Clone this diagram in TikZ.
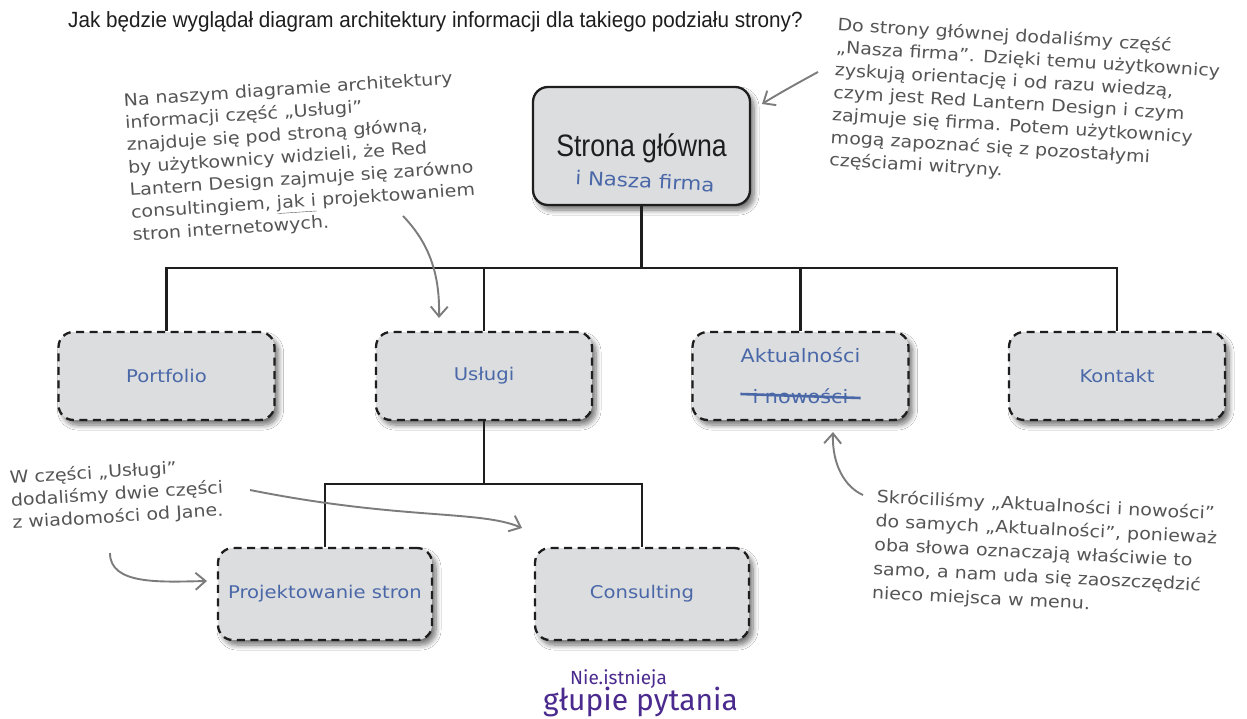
\documentclass[tikz,border=0pt]{standalone}
\usepackage{fontspec}
\setmainfont{Liberation Sans}
\newfontfamily\hand[FakeStretch=1.12]{DejaVu Sans}
\newfontfamily\condsans[FakeStretch=0.86]{Liberation Sans}
\newfontfamily\qfont[FakeStretch=0.94]{Liberation Sans}
\newfontfamily\logofont{Fira Sans}
\usetikzlibrary{arrows.meta,shadows.blur,calc}
\definecolor{boxfill}{HTML}{DCDDDF}
\definecolor{labblue}{HTML}{4A68A8}
\definecolor{notegray}{HTML}{555555}
\definecolor{arrowgray}{HTML}{7C7C7C}
\definecolor{logopurple}{HTML}{4B2A8E}
\definecolor{linecol}{HTML}{1E1E1E}
\begin{document}
\begin{tikzpicture}[x=1pt,y=-1pt,
  shad/.style={blur shadow={shadow xshift=4pt, shadow yshift=-5pt, shadow blur steps=8, shadow blur radius=5pt, shadow opacity=55}},
  mainbox/.style={shad, draw=linecol, line width=2.3pt, fill=boxfill, rounded corners=15pt, minimum width=217pt, minimum height=118pt, inner sep=0pt},
  pagebox/.style={shad, draw=linecol, line width=2.3pt, dash pattern=on 8pt off 5.5pt, fill=boxfill, rounded corners=15pt, minimum width=216pt, minimum height=88pt, inner sep=0pt},
  lab/.style={font=\hand\fontsize{17.5}{20}\selectfont, text=labblue, inner sep=0pt},
  title/.style={font=\condsans\fontsize{31}{34}\selectfont, text=linecol, inner sep=0pt},
  note/.style={font=\hand\fontsize{17}{22.5}\selectfont, text=notegray, align=left, inner sep=0pt},
  conn/.style={line width=2.5pt, draw=linecol},
  pointer/.style={line width=1.9pt, draw=arrowgray, -{Straight Barb[length=10pt,width=17pt]}}
]
\fill[white] (0,0) rectangle (1247,719);
\useasboundingbox (0,0) rectangle (1247,719);

% question
\node[anchor=base west, font=\qfont\fontsize{22}{26}\selectfont, text=linecol, inner sep=0pt] (question) at (68,28) {Jak będzie wyglądał diagram architektury informacji dla takiego podziału strony?};

% boxes
\node[mainbox] (home) at (641.5,146) {};
\node[title] (hometitle) at (641.5,148) {Strona główna};
\node[lab, font=\hand\fontsize{19}{22}\selectfont, rotate=-3] (homesub) at (645,181) {i Nasza firma};

\node[pagebox] (port) at (166.5,376) {};
\node[pagebox] (usl) at (484,376) {};
\node[pagebox] (akt) at (800.5,376) {};
\node[pagebox] (kont) at (1117,376) {};
\node[lab] (portlab) at (port) {Portfolio};
\node[lab] (usllab) at (usl) {Usługi};
\node[lab] (kontlab) at (kont) {Kontakt};
\node[lab, font=\hand\fontsize{18.5}{20}\selectfont] (aktlab) at (800.5,355) {Aktualności};
\node[lab, font=\hand\fontsize{18.5}{20}\selectfont] (aktold) at (800.5,396) {i nowości};
\draw[labblue, line width=2.6pt] ($(aktold.west)+(-12,-2)$) -- ($(aktold.east)+(12,2)$);

\node[pagebox, minimum width=214pt, minimum height=92pt] (proj) at (325,594) {};
\node[pagebox, minimum width=214pt, minimum height=92pt] (cons) at (642,594) {};
\node[lab] (projlab) at (proj) {Projektowanie stron};
\node[lab] (conslab) at (cons) {Consulting};

% connectors
\coordinate (bus) at (0,268);
\coordinate (subbus) at (0,484);
\draw[conn] (home.south) -- (home.south |- bus);
\draw[conn] (port.north) -- (port.north |- bus) -- (kont.north |- bus) -- (kont.north);
\draw[conn] (usl.north) -- (usl.north |- bus);
\draw[conn] (akt.north) -- (akt.north |- bus);
\draw[conn] (usl.south) -- (usl.south |- subbus);
\draw[conn] (proj.north) -- (proj.north |- subbus) -- (cons.north |- subbus) -- (cons.north);

% notes
\node[note, rotate=3.8, anchor=north west] (noteUsl) at (123,93) {Na naszym diagramie architektury\\informacji część „Usługi”\\znajduje się pod stroną główną,\\by użytkownicy widzieli, że Red\\Lantern Design zajmuje się zarówno\\consultingiem, \underline{jak i} projektowaniem\\stron internetowych.};
\node[note, rotate=-3.5, anchor=north west] (noteHome) at (838,17) {Do strony głównej dodaliśmy część\\„Nasza firma”. Dzięki temu użytkownicy\\zyskują orientację i od razu wiedzą,\\czym jest Red Lantern Design i czym\\zajmuje się firma. Potem użytkownicy\\mogą zapoznać się z pozostałymi\\częściami witryny.};
\node[note, rotate=3.5, anchor=north west] (noteJane) at (9,470) {W części „Usługi”\\dodaliśmy dwie części\\z wiadomości od Jane.};
\node[note, font=\hand\fontsize{17}{24}\selectfont, rotate=-2.8, anchor=north west] (noteAkt) at (877,489) {Skróciliśmy „Aktualności i nowości”\\do samych „Aktualności”, ponieważ\\oba słowa oznaczają właściwie to\\samo, a nam uda się zaoszczędzić\\nieco miejsca w menu.};

% pointers
\coordinate (p1s) at (818,72);  \coordinate (p1e) at (762,104);
\draw[pointer] (p1s) .. controls (796,84) and (778,94) .. (p1e);
\coordinate (p2s) at (403,216); \coordinate (p2e) at (439,318);
\draw[pointer] (p2s) .. controls (428,242) and (440,272) .. (p2e);
\coordinate (p3s) at (250,490); \coordinate (p3e) at (522,528);
\draw[pointer] (p3s) .. controls (400,520) and (480,510) .. (p3e);
\coordinate (p4s) at (110,553); \coordinate (p4e) at (207,581);
\draw[pointer] (p4s) .. controls (110,585) and (160,582) .. (p4e);
\coordinate (p5s) at (863,495); \coordinate (p5e) at (833,432);
\draw[pointer] (p5s) .. controls (845,487) and (832,465) .. (p5e);

% logo
\node[font=\logofont\fontsize{19}{21}\selectfont, text=logopurple, inner sep=0pt, anchor=base west] (logoA) at (570,684) {Nie.istnieja};
\node[font=\logofont\fontsize{30}{32}\selectfont, text=logopurple, inner sep=0pt, anchor=base west] (logoB) at (543,710) {głupie pytania};
\end{tikzpicture}
\end{document}
